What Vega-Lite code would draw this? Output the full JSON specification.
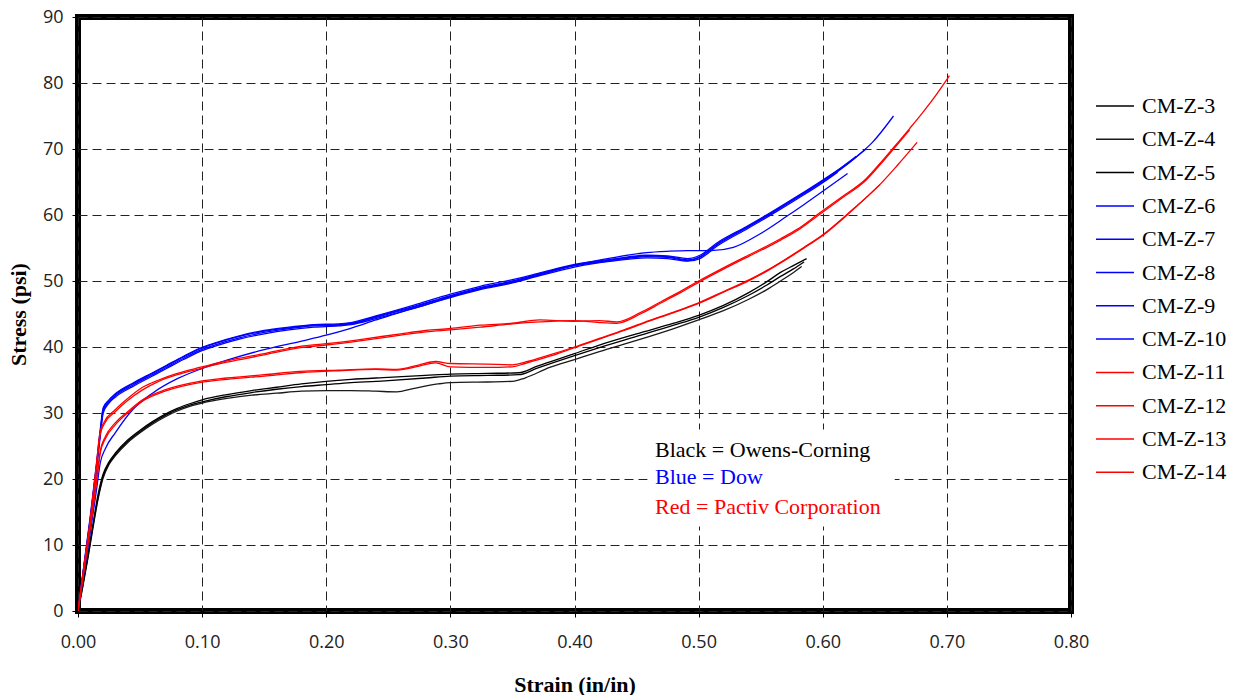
{
"$schema": "https://vega.github.io/schema/vega-lite/v6.json",
"width": 993, "height": 594,
"autosize": {"type": "none"},
"padding": {"left": 78, "top": 17, "right": 163, "bottom": 84},
"background": "#ffffff",
"config": {
  "view": {"stroke": "#000000", "strokeWidth": 6},
  "axis": {"grid": true, "gridDash": [9, 5], "gridColor": "#222222", "gridWidth": 1, "gridOpacity": 1, "domain": false, "tickColor": "#000000", "tickSize": 6, "tickWidth": 1, "labelFont": "Open Sans", "labelFontSize": 18, "labelColor": "#222222", "labelFlush": false, "labelOverlap": false, "titleFont": "Liberation Serif", "titleFontSize": 22, "titleFontWeight": "bold", "titleColor": "#000000"}
},
"layer": [
  {
    "data": {"values": [{"strain": 0.459, "strain2": 0.658, "stress": 12.8, "stress2": 27.5}]},
    "mark": {"type": "rect", "fill": "#ffffff", "stroke": null},
    "encoding": {
      "x": {"field": "strain", "type": "quantitative"},
      "x2": {"field": "strain2"},
      "y": {"field": "stress", "type": "quantitative"},
      "y2": {"field": "stress2"}
    }
  },
  {
    "data": {"values": [
{"specimen":"CM-Z-3","strain":0,"stress":0},{"specimen":"CM-Z-3","strain":0.004,"stress":4},{"specimen":"CM-Z-3","strain":0.008,"stress":8.5},{"specimen":"CM-Z-3","strain":0.012,"stress":13},{"specimen":"CM-Z-3","strain":0.016,"stress":17.5},{"specimen":"CM-Z-3","strain":0.02,"stress":20.6},{"specimen":"CM-Z-3","strain":0.025,"stress":22.6},{"specimen":"CM-Z-3","strain":0.03,"stress":23.9},{"specimen":"CM-Z-3","strain":0.04,"stress":25.9},{"specimen":"CM-Z-3","strain":0.05,"stress":27.4},{"specimen":"CM-Z-3","strain":0.06,"stress":28.7},{"specimen":"CM-Z-3","strain":0.07,"stress":29.8},{"specimen":"CM-Z-3","strain":0.08,"stress":30.7},{"specimen":"CM-Z-3","strain":0.09,"stress":31.4},{"specimen":"CM-Z-3","strain":0.1,"stress":32.0},{"specimen":"CM-Z-3","strain":0.12,"stress":32.8},{"specimen":"CM-Z-3","strain":0.14,"stress":33.4},{"specimen":"CM-Z-3","strain":0.16,"stress":33.9},{"specimen":"CM-Z-3","strain":0.18,"stress":34.4},{"specimen":"CM-Z-3","strain":0.2,"stress":34.8},{"specimen":"CM-Z-3","strain":0.22,"stress":35.1},{"specimen":"CM-Z-3","strain":0.25,"stress":35.4},{"specimen":"CM-Z-3","strain":0.28,"stress":35.7},{"specimen":"CM-Z-3","strain":0.3,"stress":35.9},{"specimen":"CM-Z-3","strain":0.33,"stress":36.0},{"specimen":"CM-Z-3","strain":0.355,"stress":36.1},{"specimen":"CM-Z-3","strain":0.37,"stress":37.1},{"specimen":"CM-Z-3","strain":0.4,"stress":39.0},{"specimen":"CM-Z-3","strain":0.42,"stress":40.3},{"specimen":"CM-Z-3","strain":0.45,"stress":42.0},{"specimen":"CM-Z-3","strain":0.48,"stress":43.6},{"specimen":"CM-Z-3","strain":0.5,"stress":44.8},{"specimen":"CM-Z-3","strain":0.52,"stress":46.3},{"specimen":"CM-Z-3","strain":0.54,"stress":48.2},{"specimen":"CM-Z-3","strain":0.555,"stress":49.9},{"specimen":"CM-Z-3","strain":0.566,"stress":51.3},{"specimen":"CM-Z-3","strain":0.577,"stress":52.4},{"specimen":"CM-Z-3","strain":0.587,"stress":53.4},
{"specimen":"CM-Z-4","strain":0,"stress":0},{"specimen":"CM-Z-4","strain":0.004,"stress":3.8},{"specimen":"CM-Z-4","strain":0.008,"stress":8},{"specimen":"CM-Z-4","strain":0.012,"stress":12.5},{"specimen":"CM-Z-4","strain":0.016,"stress":16.8},{"specimen":"CM-Z-4","strain":0.02,"stress":20.0},{"specimen":"CM-Z-4","strain":0.025,"stress":22.2},{"specimen":"CM-Z-4","strain":0.03,"stress":23.5},{"specimen":"CM-Z-4","strain":0.04,"stress":25.5},{"specimen":"CM-Z-4","strain":0.05,"stress":27.0},{"specimen":"CM-Z-4","strain":0.06,"stress":28.3},{"specimen":"CM-Z-4","strain":0.07,"stress":29.4},{"specimen":"CM-Z-4","strain":0.08,"stress":30.3},{"specimen":"CM-Z-4","strain":0.09,"stress":31.0},{"specimen":"CM-Z-4","strain":0.1,"stress":31.5},{"specimen":"CM-Z-4","strain":0.12,"stress":32.2},{"specimen":"CM-Z-4","strain":0.14,"stress":32.7},{"specimen":"CM-Z-4","strain":0.16,"stress":33.0},{"specimen":"CM-Z-4","strain":0.18,"stress":33.3},{"specimen":"CM-Z-4","strain":0.2,"stress":33.4},{"specimen":"CM-Z-4","strain":0.22,"stress":33.4},{"specimen":"CM-Z-4","strain":0.24,"stress":33.3},{"specimen":"CM-Z-4","strain":0.257,"stress":33.2},{"specimen":"CM-Z-4","strain":0.27,"stress":33.7},{"specimen":"CM-Z-4","strain":0.29,"stress":34.4},{"specimen":"CM-Z-4","strain":0.3,"stress":34.6},{"specimen":"CM-Z-4","strain":0.33,"stress":34.7},{"specimen":"CM-Z-4","strain":0.35,"stress":34.8},{"specimen":"CM-Z-4","strain":0.36,"stress":35.3},{"specimen":"CM-Z-4","strain":0.38,"stress":36.9},{"specimen":"CM-Z-4","strain":0.4,"stress":38.1},{"specimen":"CM-Z-4","strain":0.42,"stress":39.3},{"specimen":"CM-Z-4","strain":0.45,"stress":41.0},{"specimen":"CM-Z-4","strain":0.48,"stress":42.8},{"specimen":"CM-Z-4","strain":0.5,"stress":44.1},{"specimen":"CM-Z-4","strain":0.52,"stress":45.5},{"specimen":"CM-Z-4","strain":0.54,"stress":47.2},{"specimen":"CM-Z-4","strain":0.555,"stress":48.7},{"specimen":"CM-Z-4","strain":0.566,"stress":50.0},{"specimen":"CM-Z-4","strain":0.575,"stress":51.1},{"specimen":"CM-Z-4","strain":0.583,"stress":52.2},
{"specimen":"CM-Z-5","strain":0,"stress":0},{"specimen":"CM-Z-5","strain":0.004,"stress":4.2},{"specimen":"CM-Z-5","strain":0.008,"stress":8.2},{"specimen":"CM-Z-5","strain":0.012,"stress":12.8},{"specimen":"CM-Z-5","strain":0.016,"stress":17.0},{"specimen":"CM-Z-5","strain":0.02,"stress":20.3},{"specimen":"CM-Z-5","strain":0.025,"stress":22.4},{"specimen":"CM-Z-5","strain":0.03,"stress":23.7},{"specimen":"CM-Z-5","strain":0.04,"stress":25.7},{"specimen":"CM-Z-5","strain":0.05,"stress":27.2},{"specimen":"CM-Z-5","strain":0.06,"stress":28.5},{"specimen":"CM-Z-5","strain":0.07,"stress":29.6},{"specimen":"CM-Z-5","strain":0.08,"stress":30.5},{"specimen":"CM-Z-5","strain":0.09,"stress":31.2},{"specimen":"CM-Z-5","strain":0.1,"stress":31.7},{"specimen":"CM-Z-5","strain":0.12,"stress":32.5},{"specimen":"CM-Z-5","strain":0.14,"stress":33.1},{"specimen":"CM-Z-5","strain":0.16,"stress":33.6},{"specimen":"CM-Z-5","strain":0.18,"stress":34.0},{"specimen":"CM-Z-5","strain":0.2,"stress":34.3},{"specimen":"CM-Z-5","strain":0.22,"stress":34.6},{"specimen":"CM-Z-5","strain":0.25,"stress":34.9},{"specimen":"CM-Z-5","strain":0.28,"stress":35.3},{"specimen":"CM-Z-5","strain":0.3,"stress":35.6},{"specimen":"CM-Z-5","strain":0.33,"stress":35.7},{"specimen":"CM-Z-5","strain":0.355,"stress":35.8},{"specimen":"CM-Z-5","strain":0.37,"stress":36.8},{"specimen":"CM-Z-5","strain":0.4,"stress":38.7},{"specimen":"CM-Z-5","strain":0.42,"stress":39.9},{"specimen":"CM-Z-5","strain":0.45,"stress":41.6},{"specimen":"CM-Z-5","strain":0.48,"stress":43.3},{"specimen":"CM-Z-5","strain":0.5,"stress":44.5},{"specimen":"CM-Z-5","strain":0.52,"stress":46.0},{"specimen":"CM-Z-5","strain":0.54,"stress":47.8},{"specimen":"CM-Z-5","strain":0.555,"stress":49.4},{"specimen":"CM-Z-5","strain":0.566,"stress":50.7},{"specimen":"CM-Z-5","strain":0.576,"stress":51.8},{"specimen":"CM-Z-5","strain":0.585,"stress":52.9},
{"specimen":"CM-Z-6","strain":0,"stress":0},{"specimen":"CM-Z-6","strain":0.005,"stress":6},{"specimen":"CM-Z-6","strain":0.01,"stress":12},{"specimen":"CM-Z-6","strain":0.015,"stress":18.5},{"specimen":"CM-Z-6","strain":0.018,"stress":22.5},{"specimen":"CM-Z-6","strain":0.022,"stress":24.6},{"specimen":"CM-Z-6","strain":0.03,"stress":27.0},{"specimen":"CM-Z-6","strain":0.044,"stress":30.5},{"specimen":"CM-Z-6","strain":0.06,"stress":33.0},{"specimen":"CM-Z-6","strain":0.08,"stress":35.2},{"specimen":"CM-Z-6","strain":0.098,"stress":36.6},{"specimen":"CM-Z-6","strain":0.12,"stress":38.0},{"specimen":"CM-Z-6","strain":0.15,"stress":39.6},{"specimen":"CM-Z-6","strain":0.18,"stress":40.9},{"specimen":"CM-Z-6","strain":0.2,"stress":41.8},{"specimen":"CM-Z-6","strain":0.219,"stress":42.8},{"specimen":"CM-Z-6","strain":0.24,"stress":44.1},{"specimen":"CM-Z-6","strain":0.26,"stress":45.3},{"specimen":"CM-Z-6","strain":0.28,"stress":46.4},{"specimen":"CM-Z-6","strain":0.3,"stress":47.6},{"specimen":"CM-Z-6","strain":0.324,"stress":48.8},{"specimen":"CM-Z-6","strain":0.35,"stress":49.8},{"specimen":"CM-Z-6","strain":0.37,"stress":50.8},{"specimen":"CM-Z-6","strain":0.4,"stress":52.4},{"specimen":"CM-Z-6","strain":0.43,"stress":53.5},{"specimen":"CM-Z-6","strain":0.458,"stress":54.3},{"specimen":"CM-Z-6","strain":0.475,"stress":54.5},{"specimen":"CM-Z-6","strain":0.491,"stress":54.6},{"specimen":"CM-Z-6","strain":0.51,"stress":54.6},{"specimen":"CM-Z-6","strain":0.528,"stress":55.1},{"specimen":"CM-Z-6","strain":0.55,"stress":57.2},{"specimen":"CM-Z-6","strain":0.571,"stress":59.8},{"specimen":"CM-Z-6","strain":0.585,"stress":61.6},{"specimen":"CM-Z-6","strain":0.6,"stress":63.6},{"specimen":"CM-Z-6","strain":0.62,"stress":66.3},
{"specimen":"CM-Z-7","strain":0,"stress":0},{"specimen":"CM-Z-7","strain":0.005,"stress":7},{"specimen":"CM-Z-7","strain":0.01,"stress":14},{"specimen":"CM-Z-7","strain":0.015,"stress":22},{"specimen":"CM-Z-7","strain":0.018,"stress":27},{"specimen":"CM-Z-7","strain":0.0203,"stress":30.3},{"specimen":"CM-Z-7","strain":0.025,"stress":31.7},{"specimen":"CM-Z-7","strain":0.03,"stress":32.6},{"specimen":"CM-Z-7","strain":0.044,"stress":34.2},{"specimen":"CM-Z-7","strain":0.06,"stress":35.8},{"specimen":"CM-Z-7","strain":0.071,"stress":36.9},{"specimen":"CM-Z-7","strain":0.085,"stress":38.3},{"specimen":"CM-Z-7","strain":0.098,"stress":39.5},{"specimen":"CM-Z-7","strain":0.11,"stress":40.3},{"specimen":"CM-Z-7","strain":0.13,"stress":41.4},{"specimen":"CM-Z-7","strain":0.15,"stress":42.2},{"specimen":"CM-Z-7","strain":0.17,"stress":42.8},{"specimen":"CM-Z-7","strain":0.19,"stress":43.2},{"specimen":"CM-Z-7","strain":0.21,"stress":43.3},{"specimen":"CM-Z-7","strain":0.22,"stress":43.5},{"specimen":"CM-Z-7","strain":0.24,"stress":44.5},{"specimen":"CM-Z-7","strain":0.27,"stress":46.0},{"specimen":"CM-Z-7","strain":0.3,"stress":47.7},{"specimen":"CM-Z-7","strain":0.324,"stress":48.9},{"specimen":"CM-Z-7","strain":0.35,"stress":49.9},{"specimen":"CM-Z-7","strain":0.37,"stress":50.9},{"specimen":"CM-Z-7","strain":0.4,"stress":52.3},{"specimen":"CM-Z-7","strain":0.43,"stress":53.1},{"specimen":"CM-Z-7","strain":0.458,"stress":53.7},{"specimen":"CM-Z-7","strain":0.475,"stress":53.6},{"specimen":"CM-Z-7","strain":0.491,"stress":53.1},{"specimen":"CM-Z-7","strain":0.501,"stress":53.6},{"specimen":"CM-Z-7","strain":0.515,"stress":55.5},{"specimen":"CM-Z-7","strain":0.54,"stress":58.2},{"specimen":"CM-Z-7","strain":0.56,"stress":60.4},{"specimen":"CM-Z-7","strain":0.58,"stress":62.7},{"specimen":"CM-Z-7","strain":0.6,"stress":65.1},{"specimen":"CM-Z-7","strain":0.615,"stress":67.0},{"specimen":"CM-Z-7","strain":0.627,"stress":68.8},{"specimen":"CM-Z-7","strain":0.64,"stress":71.0},{"specimen":"CM-Z-7","strain":0.657,"stress":75.0},
{"specimen":"CM-Z-8","strain":0,"stress":0},{"specimen":"CM-Z-8","strain":0.005,"stress":7.3},{"specimen":"CM-Z-8","strain":0.01,"stress":14.5},{"specimen":"CM-Z-8","strain":0.015,"stress":22.5},{"specimen":"CM-Z-8","strain":0.018,"stress":27.6},{"specimen":"CM-Z-8","strain":0.0203,"stress":30.8},{"specimen":"CM-Z-8","strain":0.025,"stress":32.0},{"specimen":"CM-Z-8","strain":0.03,"stress":32.9},{"specimen":"CM-Z-8","strain":0.044,"stress":34.5},{"specimen":"CM-Z-8","strain":0.06,"stress":36.1},{"specimen":"CM-Z-8","strain":0.071,"stress":37.2},{"specimen":"CM-Z-8","strain":0.085,"stress":38.6},{"specimen":"CM-Z-8","strain":0.098,"stress":39.8},{"specimen":"CM-Z-8","strain":0.11,"stress":40.6},{"specimen":"CM-Z-8","strain":0.13,"stress":41.7},{"specimen":"CM-Z-8","strain":0.15,"stress":42.5},{"specimen":"CM-Z-8","strain":0.17,"stress":43.0},{"specimen":"CM-Z-8","strain":0.19,"stress":43.4},{"specimen":"CM-Z-8","strain":0.21,"stress":43.5},{"specimen":"CM-Z-8","strain":0.22,"stress":43.7},{"specimen":"CM-Z-8","strain":0.24,"stress":44.7},{"specimen":"CM-Z-8","strain":0.27,"stress":46.3},{"specimen":"CM-Z-8","strain":0.3,"stress":48.0},{"specimen":"CM-Z-8","strain":0.324,"stress":49.2},{"specimen":"CM-Z-8","strain":0.35,"stress":50.2},{"specimen":"CM-Z-8","strain":0.37,"stress":51.1},{"specimen":"CM-Z-8","strain":0.4,"stress":52.5},{"specimen":"CM-Z-8","strain":0.43,"stress":53.3},{"specimen":"CM-Z-8","strain":0.458,"stress":53.9},{"specimen":"CM-Z-8","strain":0.475,"stress":53.8},{"specimen":"CM-Z-8","strain":0.491,"stress":53.4},{"specimen":"CM-Z-8","strain":0.501,"stress":53.9},{"specimen":"CM-Z-8","strain":0.515,"stress":55.8},{"specimen":"CM-Z-8","strain":0.54,"stress":58.4},{"specimen":"CM-Z-8","strain":0.56,"stress":60.6},{"specimen":"CM-Z-8","strain":0.58,"stress":62.9},{"specimen":"CM-Z-8","strain":0.6,"stress":65.3},{"specimen":"CM-Z-8","strain":0.615,"stress":67.2},{"specimen":"CM-Z-8","strain":0.627,"stress":68.9},
{"specimen":"CM-Z-9","strain":0,"stress":0},{"specimen":"CM-Z-9","strain":0.005,"stress":6.8},{"specimen":"CM-Z-9","strain":0.01,"stress":13.6},{"specimen":"CM-Z-9","strain":0.015,"stress":21.5},{"specimen":"CM-Z-9","strain":0.018,"stress":26.6},{"specimen":"CM-Z-9","strain":0.0203,"stress":30.0},{"specimen":"CM-Z-9","strain":0.025,"stress":31.5},{"specimen":"CM-Z-9","strain":0.03,"stress":32.4},{"specimen":"CM-Z-9","strain":0.044,"stress":34.0},{"specimen":"CM-Z-9","strain":0.06,"stress":35.6},{"specimen":"CM-Z-9","strain":0.071,"stress":36.7},{"specimen":"CM-Z-9","strain":0.085,"stress":38.1},{"specimen":"CM-Z-9","strain":0.098,"stress":39.3},{"specimen":"CM-Z-9","strain":0.11,"stress":40.1},{"specimen":"CM-Z-9","strain":0.13,"stress":41.2},{"specimen":"CM-Z-9","strain":0.15,"stress":42.0},{"specimen":"CM-Z-9","strain":0.17,"stress":42.6},{"specimen":"CM-Z-9","strain":0.19,"stress":43.0},{"specimen":"CM-Z-9","strain":0.21,"stress":43.2},{"specimen":"CM-Z-9","strain":0.22,"stress":43.4},{"specimen":"CM-Z-9","strain":0.24,"stress":44.3},{"specimen":"CM-Z-9","strain":0.27,"stress":45.8},{"specimen":"CM-Z-9","strain":0.3,"stress":47.5},{"specimen":"CM-Z-9","strain":0.324,"stress":48.7},{"specimen":"CM-Z-9","strain":0.35,"stress":49.7},{"specimen":"CM-Z-9","strain":0.37,"stress":50.7},{"specimen":"CM-Z-9","strain":0.4,"stress":52.1},{"specimen":"CM-Z-9","strain":0.43,"stress":53.0},{"specimen":"CM-Z-9","strain":0.458,"stress":53.5},{"specimen":"CM-Z-9","strain":0.475,"stress":53.4},{"specimen":"CM-Z-9","strain":0.491,"stress":53.0},{"specimen":"CM-Z-9","strain":0.501,"stress":53.4},{"specimen":"CM-Z-9","strain":0.515,"stress":55.3},{"specimen":"CM-Z-9","strain":0.54,"stress":58.0},{"specimen":"CM-Z-9","strain":0.56,"stress":60.2},{"specimen":"CM-Z-9","strain":0.58,"stress":62.5},{"specimen":"CM-Z-9","strain":0.6,"stress":64.9},{"specimen":"CM-Z-9","strain":0.612,"stress":66.5},
{"specimen":"CM-Z-10","strain":0,"stress":0},{"specimen":"CM-Z-10","strain":0.005,"stress":7.1},{"specimen":"CM-Z-10","strain":0.01,"stress":14.2},{"specimen":"CM-Z-10","strain":0.015,"stress":22.2},{"specimen":"CM-Z-10","strain":0.018,"stress":27.2},{"specimen":"CM-Z-10","strain":0.0203,"stress":30.6},{"specimen":"CM-Z-10","strain":0.025,"stress":31.9},{"specimen":"CM-Z-10","strain":0.03,"stress":32.8},{"specimen":"CM-Z-10","strain":0.044,"stress":34.4},{"specimen":"CM-Z-10","strain":0.06,"stress":36.0},{"specimen":"CM-Z-10","strain":0.071,"stress":37.1},{"specimen":"CM-Z-10","strain":0.085,"stress":38.5},{"specimen":"CM-Z-10","strain":0.098,"stress":39.7},{"specimen":"CM-Z-10","strain":0.11,"stress":40.5},{"specimen":"CM-Z-10","strain":0.13,"stress":41.6},{"specimen":"CM-Z-10","strain":0.15,"stress":42.4},{"specimen":"CM-Z-10","strain":0.17,"stress":42.9},{"specimen":"CM-Z-10","strain":0.19,"stress":43.3},{"specimen":"CM-Z-10","strain":0.21,"stress":43.4},{"specimen":"CM-Z-10","strain":0.22,"stress":43.6},{"specimen":"CM-Z-10","strain":0.24,"stress":44.6},{"specimen":"CM-Z-10","strain":0.27,"stress":46.1},{"specimen":"CM-Z-10","strain":0.3,"stress":47.8},{"specimen":"CM-Z-10","strain":0.324,"stress":49.0},{"specimen":"CM-Z-10","strain":0.35,"stress":50.0},{"specimen":"CM-Z-10","strain":0.37,"stress":51.0},{"specimen":"CM-Z-10","strain":0.4,"stress":52.4},{"specimen":"CM-Z-10","strain":0.43,"stress":53.2},{"specimen":"CM-Z-10","strain":0.458,"stress":53.8},{"specimen":"CM-Z-10","strain":0.475,"stress":53.7},{"specimen":"CM-Z-10","strain":0.491,"stress":53.2},{"specimen":"CM-Z-10","strain":0.501,"stress":53.7},{"specimen":"CM-Z-10","strain":0.515,"stress":55.6},{"specimen":"CM-Z-10","strain":0.54,"stress":58.3},{"specimen":"CM-Z-10","strain":0.56,"stress":60.5},{"specimen":"CM-Z-10","strain":0.58,"stress":62.8},{"specimen":"CM-Z-10","strain":0.6,"stress":65.2},{"specimen":"CM-Z-10","strain":0.615,"stress":67.1},{"specimen":"CM-Z-10","strain":0.627,"stress":68.8},{"specimen":"CM-Z-10","strain":0.635,"stress":70.0},
{"specimen":"CM-Z-11","strain":0,"stress":0},{"specimen":"CM-Z-11","strain":0.005,"stress":7},{"specimen":"CM-Z-11","strain":0.01,"stress":14},{"specimen":"CM-Z-11","strain":0.015,"stress":22.5},{"specimen":"CM-Z-11","strain":0.0177,"stress":27.0},{"specimen":"CM-Z-11","strain":0.021,"stress":28.6},{"specimen":"CM-Z-11","strain":0.03,"stress":30.5},{"specimen":"CM-Z-11","strain":0.04,"stress":32.2},{"specimen":"CM-Z-11","strain":0.052,"stress":33.9},{"specimen":"CM-Z-11","strain":0.065,"stress":35.0},{"specimen":"CM-Z-11","strain":0.08,"stress":36.0},{"specimen":"CM-Z-11","strain":0.098,"stress":36.9},{"specimen":"CM-Z-11","strain":0.12,"stress":37.9},{"specimen":"CM-Z-11","strain":0.15,"stress":39.0},{"specimen":"CM-Z-11","strain":0.179,"stress":40.1},{"specimen":"CM-Z-11","strain":0.2,"stress":40.5},{"specimen":"CM-Z-11","strain":0.23,"stress":41.2},{"specimen":"CM-Z-11","strain":0.26,"stress":42.0},{"specimen":"CM-Z-11","strain":0.28,"stress":42.5},{"specimen":"CM-Z-11","strain":0.3,"stress":42.8},{"specimen":"CM-Z-11","strain":0.324,"stress":43.3},{"specimen":"CM-Z-11","strain":0.35,"stress":43.6},{"specimen":"CM-Z-11","strain":0.372,"stress":44.1},{"specimen":"CM-Z-11","strain":0.399,"stress":43.9},{"specimen":"CM-Z-11","strain":0.42,"stress":44.0},{"specimen":"CM-Z-11","strain":0.434,"stress":43.8},{"specimen":"CM-Z-11","strain":0.453,"stress":45.2},{"specimen":"CM-Z-11","strain":0.47,"stress":46.9},{"specimen":"CM-Z-11","strain":0.485,"stress":48.4},{"specimen":"CM-Z-11","strain":0.5,"stress":50.0},{"specimen":"CM-Z-11","strain":0.52,"stress":52.0},{"specimen":"CM-Z-11","strain":0.54,"stress":53.9},{"specimen":"CM-Z-11","strain":0.555,"stress":55.3},{"specimen":"CM-Z-11","strain":0.566,"stress":56.4},{"specimen":"CM-Z-11","strain":0.58,"stress":57.9},{"specimen":"CM-Z-11","strain":0.596,"stress":60.1},{"specimen":"CM-Z-11","strain":0.615,"stress":62.7},{"specimen":"CM-Z-11","strain":0.635,"stress":65.5},{"specimen":"CM-Z-11","strain":0.647,"stress":68.0},{"specimen":"CM-Z-11","strain":0.657,"stress":70.2},{"specimen":"CM-Z-11","strain":0.67,"stress":73.1},{"specimen":"CM-Z-11","strain":0.68,"stress":75.4},{"specimen":"CM-Z-11","strain":0.689,"stress":77.6},{"specimen":"CM-Z-11","strain":0.702,"stress":81.1},
{"specimen":"CM-Z-12","strain":0,"stress":0},{"specimen":"CM-Z-12","strain":0.005,"stress":6.8},{"specimen":"CM-Z-12","strain":0.01,"stress":13.7},{"specimen":"CM-Z-12","strain":0.015,"stress":22.0},{"specimen":"CM-Z-12","strain":0.0177,"stress":26.6},{"specimen":"CM-Z-12","strain":0.021,"stress":28.3},{"specimen":"CM-Z-12","strain":0.03,"stress":30.2},{"specimen":"CM-Z-12","strain":0.04,"stress":31.9},{"specimen":"CM-Z-12","strain":0.052,"stress":33.5},{"specimen":"CM-Z-12","strain":0.065,"stress":34.8},{"specimen":"CM-Z-12","strain":0.08,"stress":35.8},{"specimen":"CM-Z-12","strain":0.098,"stress":36.7},{"specimen":"CM-Z-12","strain":0.12,"stress":37.7},{"specimen":"CM-Z-12","strain":0.15,"stress":38.8},{"specimen":"CM-Z-12","strain":0.179,"stress":39.9},{"specimen":"CM-Z-12","strain":0.2,"stress":40.3},{"specimen":"CM-Z-12","strain":0.23,"stress":41.0},{"specimen":"CM-Z-12","strain":0.26,"stress":41.8},{"specimen":"CM-Z-12","strain":0.28,"stress":42.3},{"specimen":"CM-Z-12","strain":0.3,"stress":42.6},{"specimen":"CM-Z-12","strain":0.324,"stress":43.0},{"specimen":"CM-Z-12","strain":0.35,"stress":43.5},{"specimen":"CM-Z-12","strain":0.372,"stress":43.8},{"specimen":"CM-Z-12","strain":0.399,"stress":44.0},{"specimen":"CM-Z-12","strain":0.42,"stress":43.7},{"specimen":"CM-Z-12","strain":0.434,"stress":43.6},{"specimen":"CM-Z-12","strain":0.453,"stress":45.0},{"specimen":"CM-Z-12","strain":0.47,"stress":46.7},{"specimen":"CM-Z-12","strain":0.485,"stress":48.2},{"specimen":"CM-Z-12","strain":0.5,"stress":49.8},{"specimen":"CM-Z-12","strain":0.52,"stress":51.8},{"specimen":"CM-Z-12","strain":0.54,"stress":53.7},{"specimen":"CM-Z-12","strain":0.555,"stress":55.1},{"specimen":"CM-Z-12","strain":0.566,"stress":56.2},{"specimen":"CM-Z-12","strain":0.58,"stress":57.7},{"specimen":"CM-Z-12","strain":0.596,"stress":59.9},{"specimen":"CM-Z-12","strain":0.615,"stress":62.5},{"specimen":"CM-Z-12","strain":0.635,"stress":65.3},{"specimen":"CM-Z-12","strain":0.647,"stress":67.8},{"specimen":"CM-Z-12","strain":0.657,"stress":70.0},{"specimen":"CM-Z-12","strain":0.67,"stress":72.9},
{"specimen":"CM-Z-13","strain":0,"stress":0},{"specimen":"CM-Z-13","strain":0.005,"stress":6.5},{"specimen":"CM-Z-13","strain":0.01,"stress":13},{"specimen":"CM-Z-13","strain":0.015,"stress":20},{"specimen":"CM-Z-13","strain":0.018,"stress":24.3},{"specimen":"CM-Z-13","strain":0.022,"stress":26.4},{"specimen":"CM-Z-13","strain":0.03,"stress":28.5},{"specimen":"CM-Z-13","strain":0.04,"stress":30.2},{"specimen":"CM-Z-13","strain":0.052,"stress":32.0},{"specimen":"CM-Z-13","strain":0.07,"stress":33.5},{"specimen":"CM-Z-13","strain":0.098,"stress":34.8},{"specimen":"CM-Z-13","strain":0.12,"stress":35.3},{"specimen":"CM-Z-13","strain":0.15,"stress":35.8},{"specimen":"CM-Z-13","strain":0.179,"stress":36.3},{"specimen":"CM-Z-13","strain":0.21,"stress":36.5},{"specimen":"CM-Z-13","strain":0.24,"stress":36.7},{"specimen":"CM-Z-13","strain":0.257,"stress":36.6},{"specimen":"CM-Z-13","strain":0.275,"stress":37.3},{"specimen":"CM-Z-13","strain":0.288,"stress":37.8},{"specimen":"CM-Z-13","strain":0.3,"stress":37.5},{"specimen":"CM-Z-13","strain":0.33,"stress":37.4},{"specimen":"CM-Z-13","strain":0.35,"stress":37.3},{"specimen":"CM-Z-13","strain":0.36,"stress":37.7},{"specimen":"CM-Z-13","strain":0.38,"stress":38.8},{"specimen":"CM-Z-13","strain":0.4,"stress":40.0},{"specimen":"CM-Z-13","strain":0.42,"stress":41.3},{"specimen":"CM-Z-13","strain":0.44,"stress":42.6},{"specimen":"CM-Z-13","strain":0.46,"stress":44.0},{"specimen":"CM-Z-13","strain":0.48,"stress":45.3},{"specimen":"CM-Z-13","strain":0.5,"stress":46.7},{"specimen":"CM-Z-13","strain":0.52,"stress":48.4},{"specimen":"CM-Z-13","strain":0.541,"stress":50.2},{"specimen":"CM-Z-13","strain":0.555,"stress":51.6},{"specimen":"CM-Z-13","strain":0.57,"stress":53.3},{"specimen":"CM-Z-13","strain":0.585,"stress":55.1},{"specimen":"CM-Z-13","strain":0.6,"stress":57.0},{"specimen":"CM-Z-13","strain":0.622,"stress":60.5},{"specimen":"CM-Z-13","strain":0.646,"stress":64.6},{"specimen":"CM-Z-13","strain":0.66,"stress":67.5},{"specimen":"CM-Z-13","strain":0.676,"stress":71.0},
{"specimen":"CM-Z-14","strain":0,"stress":0},{"specimen":"CM-Z-14","strain":0.005,"stress":6.3},{"specimen":"CM-Z-14","strain":0.01,"stress":12.7},{"specimen":"CM-Z-14","strain":0.015,"stress":19.6},{"specimen":"CM-Z-14","strain":0.018,"stress":24.0},{"specimen":"CM-Z-14","strain":0.022,"stress":26.1},{"specimen":"CM-Z-14","strain":0.03,"stress":28.2},{"specimen":"CM-Z-14","strain":0.04,"stress":30.0},{"specimen":"CM-Z-14","strain":0.052,"stress":31.8},{"specimen":"CM-Z-14","strain":0.07,"stress":33.3},{"specimen":"CM-Z-14","strain":0.098,"stress":34.6},{"specimen":"CM-Z-14","strain":0.12,"stress":35.1},{"specimen":"CM-Z-14","strain":0.15,"stress":35.6},{"specimen":"CM-Z-14","strain":0.179,"stress":36.1},{"specimen":"CM-Z-14","strain":0.21,"stress":36.4},{"specimen":"CM-Z-14","strain":0.24,"stress":36.6},{"specimen":"CM-Z-14","strain":0.257,"stress":36.5},{"specimen":"CM-Z-14","strain":0.275,"stress":37.1},{"specimen":"CM-Z-14","strain":0.288,"stress":37.6},{"specimen":"CM-Z-14","strain":0.3,"stress":37.0},{"specimen":"CM-Z-14","strain":0.33,"stress":36.9},{"specimen":"CM-Z-14","strain":0.35,"stress":37.0},{"specimen":"CM-Z-14","strain":0.36,"stress":37.5},{"specimen":"CM-Z-14","strain":0.38,"stress":38.6},{"specimen":"CM-Z-14","strain":0.4,"stress":39.9},{"specimen":"CM-Z-14","strain":0.42,"stress":41.2},{"specimen":"CM-Z-14","strain":0.44,"stress":42.5},{"specimen":"CM-Z-14","strain":0.46,"stress":43.9},{"specimen":"CM-Z-14","strain":0.48,"stress":45.2},{"specimen":"CM-Z-14","strain":0.5,"stress":46.6},{"specimen":"CM-Z-14","strain":0.52,"stress":48.3},{"specimen":"CM-Z-14","strain":0.541,"stress":50.1},{"specimen":"CM-Z-14","strain":0.555,"stress":51.5},{"specimen":"CM-Z-14","strain":0.57,"stress":53.2},{"specimen":"CM-Z-14","strain":0.585,"stress":55.0},{"specimen":"CM-Z-14","strain":0.6,"stress":56.9},{"specimen":"CM-Z-14","strain":0.622,"stress":60.4},{"specimen":"CM-Z-14","strain":0.646,"stress":64.6}
    ]},
    "mark": {"type": "line", "strokeWidth": 1.3, "interpolate": "monotone", "clip": true},
    "encoding": {
      "x": {"field": "strain", "type": "quantitative", "scale": {"domain": [0, 0.8], "nice": false, "zero": false},
        "axis": {"title": "Strain (in/in)", "values": [0, 0.1, 0.2, 0.3, 0.4, 0.5, 0.6, 0.7, 0.8], "format": ".2f", "labelPadding": 16, "titleBaseline": "middle", "titleX": 496.5, "titleY": 73}},
      "y": {"field": "stress", "type": "quantitative", "scale": {"domain": [0, 90], "nice": false, "zero": false},
        "axis": {"title": "Stress (psi)", "values": [0, 10, 20, 30, 40, 50, 60, 70, 80, 90], "labelPadding": 9, "titleBaseline": "middle", "titleAngle": -90, "titleX": -60, "titleY": 297}},
      "color": {"field": "specimen", "type": "nominal",
        "scale": {"domain": ["CM-Z-3","CM-Z-4","CM-Z-5","CM-Z-6","CM-Z-7","CM-Z-8","CM-Z-9","CM-Z-10","CM-Z-11","CM-Z-12","CM-Z-13","CM-Z-14"],
                  "range": ["#000000","#1a1a1a","#000000","#0000ff","#0000ff","#0000ff","#0000ff","#0000ff","#ff0000","#ff0000","#ff0000","#ff0000"]},
        "legend": {"orient": "none", "legendX": 1017, "legendY": 69, "title": null, "symbolType": "stroke", "symbolSize": 1444, "symbolStrokeWidth": 1.5, "labelFont": "Liberation Serif", "labelFontSize": 22, "labelColor": "#000000", "rowPadding": 2.3, "labelOffset": 7, "padding": 0}}
    }
  },
  {
    "data": {"values": [{"strain": 0.4649, "stress": 23.4, "label": "Black = Owens-Corning"}]},
    "mark": {"type": "text", "align": "left", "baseline": "alphabetic", "font": "Liberation Serif", "fontSize": 22, "color": "#000000"},
    "encoding": {"x": {"field": "strain", "type": "quantitative"}, "y": {"field": "stress", "type": "quantitative"}, "text": {"field": "label"}}
  },
  {
    "data": {"values": [{"strain": 0.4649, "stress": 19.2, "label": "Blue = Dow"}]},
    "mark": {"type": "text", "align": "left", "baseline": "alphabetic", "font": "Liberation Serif", "fontSize": 22, "color": "#0000ff"},
    "encoding": {"x": {"field": "strain", "type": "quantitative"}, "y": {"field": "stress", "type": "quantitative"}, "text": {"field": "label"}}
  },
  {
    "data": {"values": [{"strain": 0.4649, "stress": 14.7, "label": "Red = Pactiv Corporation"}]},
    "mark": {"type": "text", "align": "left", "baseline": "alphabetic", "font": "Liberation Serif", "fontSize": 22, "color": "#ff0000"},
    "encoding": {"x": {"field": "strain", "type": "quantitative"}, "y": {"field": "stress", "type": "quantitative"}, "text": {"field": "label"}}
  }
]
}
